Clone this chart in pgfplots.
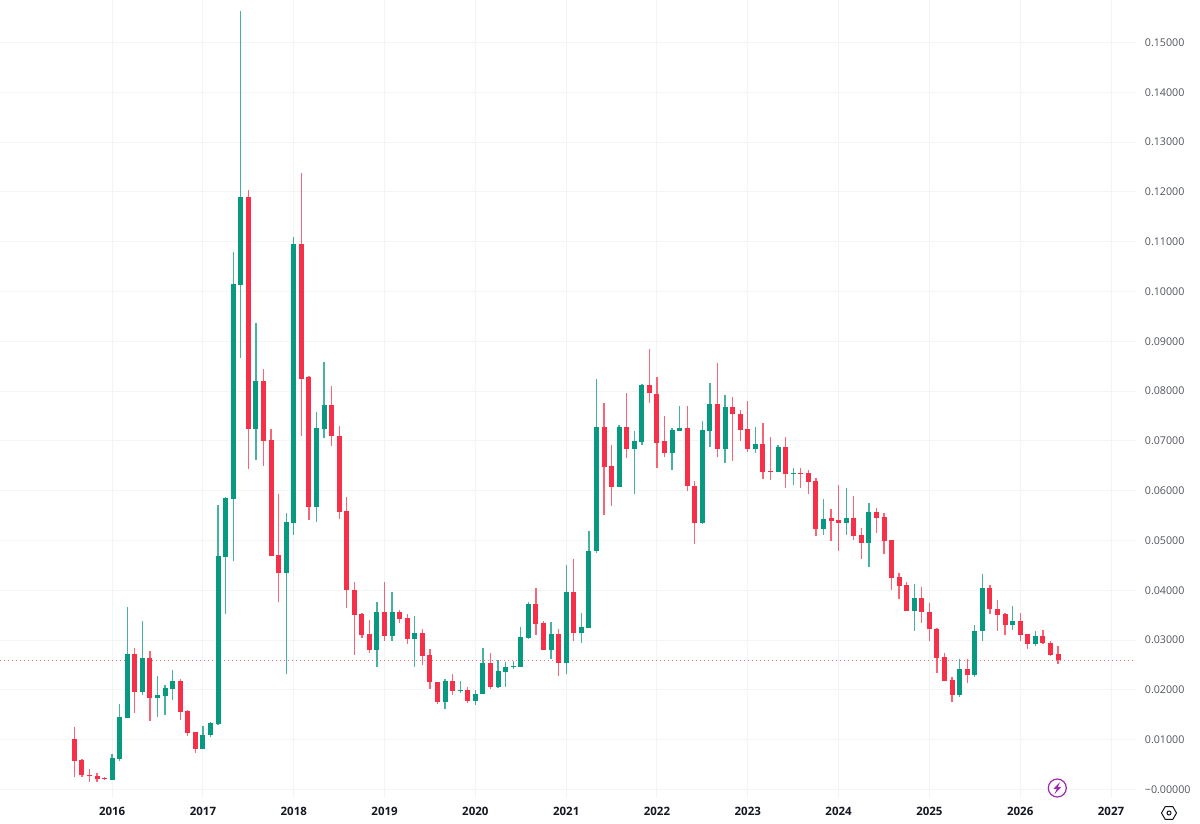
\documentclass[border=0pt]{standalone}
\usepackage{fontspec}
\setmainfont{Open Sans}
\usepackage{pgfplots}
\usepackage{pgfplotstable}
\pgfplotsset{compat=1.18}

\definecolor{upcol}{HTML}{089981}
\definecolor{downcol}{HTML}{F7304A}
\definecolor{gridcol}{HTML}{F3F4F6}
\definecolor{lblcol}{HTML}{50535E}
\definecolor{yearcol}{HTML}{131722}
\definecolor{boltcol}{HTML}{9C27B0}

% monthly candles, month 0 = Jan 2016
\pgfplotstableread{
month open close high low
0 .00191 .00627 .00713 .00191
1 .00612 .01450 .01717 .00578
2 .01436 .02727 .03659 .01436
4 .01964 .02641 .03384 .01892
6 .01837 .01892 .02273 .01456
7 .01878 .02038 .02104 .01502
8 .02018 .02179 .02400 .01797
12 .00807 .01100 .01269 .00807
13 .01088 .01341 .01355 .01048
14 .01315 .04689 .05713 .01301
15 .04675 .05847 .05867 .03524
16 .05833 .10145 .10787 .04588
17 .10131 .11898 .15633 .08671
19 .07239 .08203 .09361 .06616
23 .04347 .05365 .05546 .02319
24 .05357 .10948 .11088 .05110
27 .05667 .07253 .07574 .05371
28 .07239 .07721 .08584 .07052
35 .02807 .03558 .03771 .02466
37 .03082 .03558 .03972 .02988
40 .03028 .03137 .03484 .02466
44 .01763 .02179 .02213 .01622
46 .01978 .01998 .02179 .01944
48 .01777 .01924 .01998 .01691
49 .01912 .02540 .02841 .01912
51 .02058 .02380 .02600 .02044
52 .02365 .02460 .02560 .02058
53 .02460 .02474 .02574 .02414
54 .02460 .03062 .03257 .02460
55 .03042 .03725 .03771 .03028
58 .02795 .03129 .03369 .02620
60 .02534 .03960 .04508 .02313
62 .03137 .03257 .03538 .02936
63 .03249 .04795 .05185 .03249
64 .04789 .07273 .08237 .04743
67 .06080 .07285 .07319 .06080
69 .06837 .06992 .07199 .05940
70 .06984 .08129 .08143 .06918
74 .06763 .07219 .07253 .06416
75 .07199 .07253 .07695 .07199
78 .05345 .07219 .07400 .05325
79 .07205 .07741 .08163 .06884
81 .06837 .07675 .07922 .06562
85 .06837 .06938 .07273 .06763
88 .06382 .06884 .06912 .06382
90 .06341 .06355 .06450 .06114
94 .05225 .05438 .05827 .05116
97 .05351 .05458 .06048 .05116
100 .04950 .05572 .05747 .04474
106 .03578 .03845 .04127 .03189
112 .01892 .02420 .02614 .01863
114 .02299 .03183 .03297 .02265
115 .03177 .04046 .04321 .02988
119 .03303 .03390 .03685 .03209
122 .02922 .03076 .03189 .02882
}\upcandles

\pgfplotstableread{
month open close high low
-5 .01008 .00578 .01249 .00257
-4 .00586 .00285 .00606 .00251
-3 .00297 .00277 .00406 .00157
-2 .00277 .00211 .00325 .00157
-1 .00231 .00211 .00245 .00191
3 .02727 .01964 .02835 .01530
5 .02641 .01843 .02781 .01382
9 .02179 .01562 .02213 .01396
10 .01576 .01141 .01596 .01080
11 .01155 .00813 .01155 .00739
18 .11898 .07239 .12038 .06436
20 .08203 .07004 .08438 .06502
21 .07018 .04689 .07233 .04689
22 .04709 .04347 .05934 .03759
25 .10948 .08243 .12373 .07092
26 .08277 .05667 .08303 .05406
29 .07721 .07092 .08102 .06904
30 .07104 .05578 .07305 .05438
31 .05592 .04006 .05880 .03651
32 .04006 .03504 .04173 .02701
33 .03518 .03102 .03538 .03048
34 .03116 .02807 .03404 .02735
36 .03558 .03082 .04173 .02988
38 .03558 .03430 .03610 .03337
39 .03444 .03022 .03518 .02916
41 .03137 .02681 .03223 .02500
42 .02695 .02153 .02821 .02018
43 .02159 .01757 .02159 .01723
45 .02179 .01984 .02313 .01898
47 .01998 .01777 .02052 .01731
50 .02540 .02058 .02747 .02024
56 .03719 .03323 .04040 .03102
57 .03337 .02795 .03390 .02795
59 .03129 .02534 .03217 .02279
61 .03960 .03137 .04622 .02988
65 .07273 .06482 .07755 .05518
66 .06496 .06080 .06918 .05699
68 .07285 .06837 .07956 .06651
71 .08129 .07956 .08839 .07755
72 .07942 .06964 .08289 .06450
73 .06992 .06763 .07506 .06671
76 .07253 .06088 .07695 .05994
77 .06094 .05357 .06195 .04924
80 .07741 .06837 .08570 .06671
82 .07675 .07534 .07888 .06602
83 .07540 .07219 .07614 .06998
84 .07233 .06837 .07795 .06783
86 .06938 .06382 .07353 .06235
87 .06396 .06376 .07084 .06215
89 .06884 .06329 .07084 .06060
91 .06355 .06341 .06462 .06060
92 .06349 .06181 .06410 .05940
93 .06189 .05231 .06261 .05096
95 .05446 .05392 .05627 .04990
96 .05406 .05351 .06114 .04783
98 .05458 .05096 .05894 .05004
99 .05110 .04950 .05257 .04622
101 .05572 .05458 .05659 .05151
102 .05478 .04984 .05552 .04729
103 .05004 .04253 .05016 .04012
104 .04267 .04086 .04341 .03831
105 .04106 .03578 .04161 .03578
107 .03845 .03564 .04066 .03343
108 .03570 .03217 .03739 .02988
109 .03223 .02647 .03237 .02333
110 .02655 .02185 .02735 .02173
111 .02199 .01898 .02259 .01763
113 .02420 .02299 .02614 .02145
116 .04046 .03618 .04106 .03524
117 .03624 .03510 .03805 .03189
118 .03518 .03309 .03538 .03102
120 .03390 .03108 .03538 .02976
121 .03116 .02922 .03116 .02827
123 .03076 .02942 .03203 .02928
124 .02948 .02701 .02988 .02687
125 .02715 .02594 .02882 .02526
}\downcandles

\pgfplotsset{
  wick/.style={draw=none, mark=none, forget plot,
    error bars/.cd, y dir=plus, y explicit, error mark=none,
    error bar style={color=#1, opacity=0.75, line width=1.3pt}},
  body/.style={draw=none, mark=none, forget plot,
    error bars/.cd, y dir=plus, y explicit, error mark=none,
    error bar style={color=#1, line width=5pt}},
}

\begin{document}
\begin{tikzpicture}[x=1pt,y=1pt]
  \useasboundingbox (0,0) rectangle (1200,823);
  \begin{axis}[
    at={(0pt,25pt)}, anchor=south west,
    scale only axis, width=1136pt, height=798pt,
    xmin=-14.82, xmax=135.30,
    ymin=-0.00171, ymax=0.15853,
    axis line style={draw=none},
    major tick length=0pt,
    tick style={draw=none},
    grid=major,
    major grid style={color=gridcol, line width=1pt},
    xtick={0,12,...,132},
    xticklabels={2016,2017,2018,2019,2020,2021,2022,2023,2024,2025,2026,2027},
    xticklabel style={font=\fontsize{11.5}{13}\selectfont\bfseries, text=yearcol, inner sep=0pt, yshift=-9pt},
    ytick={0,0.01,0.02,0.03,0.04,0.05,0.06,0.07,0.08,0.09,0.10,0.11,0.12,0.13,0.14,0.15},
    yticklabels={−0.00000,0.01000,0.02000,0.03000,0.04000,0.05000,0.06000,0.07000,0.08000,0.09000,0.10000,0.11000,0.12000,0.13000,0.14000,0.15000},
    yticklabel pos=right,
    yticklabel style={font=\fontsize{10.7}{12}\selectfont, text=lblcol, inner sep=0pt, anchor=west, xshift=8.7pt},
  ]
    % last price line
    \addplot[forget plot, color=downcol, line width=1pt, opacity=0.7, dash pattern=on 1.3pt off 2.7pt] coordinates {(-14.82,0.026) (135.30,0.026)};

    \addplot[wick=upcol] table[x=month, y=low, y error plus expr=\thisrow{high}-\thisrow{low}] {\upcandles};
    \addplot[wick=downcol] table[x=month, y=low, y error plus expr=\thisrow{high}-\thisrow{low}] {\downcandles};
    \addplot[body=upcol] table[x=month, y=open, y error plus expr=\thisrow{close}-\thisrow{open}] {\upcandles};
    \addplot[body=downcol] table[x=month, y=close, y error plus expr=\thisrow{open}-\thisrow{close}] {\downcandles};
  \end{axis}

  % bolt badge
  \draw[boltcol, line width=1.2pt, fill=white] (1057.3,35) circle (9);
  \fill[boltcol] (1060,41) -- (1053.5,34.2) -- (1056.8,34.2) -- (1054.6,29) -- (1061,35.8) -- (1057.8,35.8) -- cycle;
  % settings hexagon
  \draw[yearcol, line width=1pt, line join=round] (1161.5,10) -- (1165.2,16.4) -- (1172.8,16.4) -- (1176.5,10) -- (1172.8,3.6) -- (1165.2,3.6) -- cycle;
  \draw[yearcol, line width=1pt] (1169,10) circle (2);
\end{tikzpicture}
\end{document}
